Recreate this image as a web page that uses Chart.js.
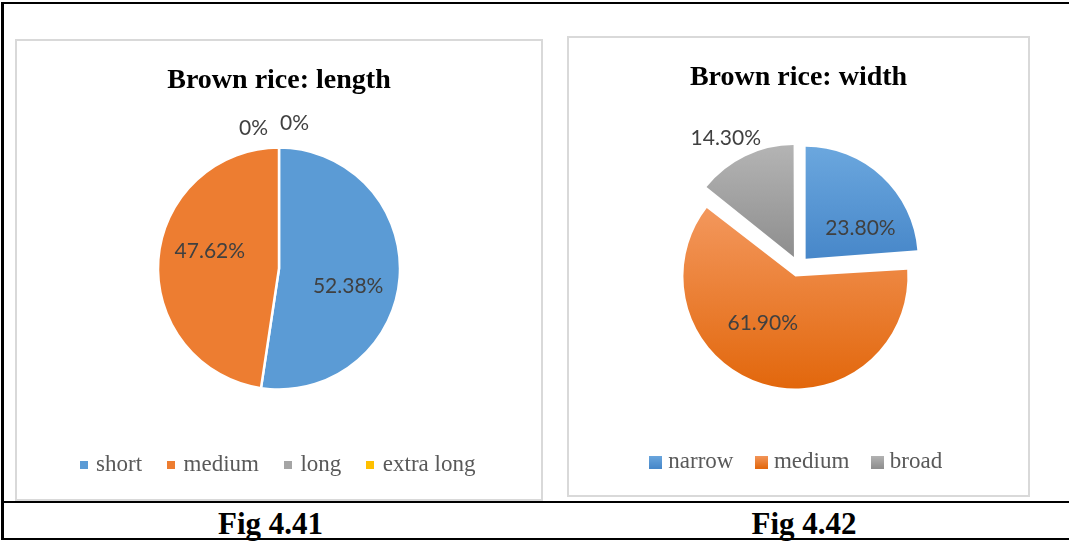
<!DOCTYPE html>
<html>
<head>
<meta charset="utf-8">
<script src="https://cdn.jsdelivr.net/npm/chart.js@4.4.1/dist/chart.umd.min.js"></script>
<style>
  html, body { margin: 0; padding: 0; background: #fff; }
  #page { position: relative; width: 1069px; height: 541px; overflow: hidden; }
  .rule { position: absolute; background: #000; }
  .box { position: absolute; box-sizing: border-box; border: 2px solid #d9d9d9; }
  .box div { position: relative; width: 100%; height: 100%; }
  .fig { position: absolute; top: 506px; line-height: 31px; text-align: center;
         font: bold 31px "Liberation Serif", "Times New Roman", serif; color: #000; }
</style>
</head>
<body>
<div id="page">
  <div class="rule" style="left:1px;top:2px;width:1068px;height:2px"></div>
  <div class="rule" style="left:1px;top:2px;width:3px;height:538px"></div>
  <div class="rule" style="left:1px;top:501px;width:1068px;height:2px"></div>
  <div class="rule" style="left:1px;top:538px;width:1068px;height:2px"></div>

  <div class="box" style="left:15px;top:39px;width:528px;height:462px"><div><canvas id="lengthChart"></canvas></div></div>
  <div class="box" style="left:567px;top:36px;width:463px;height:461px"><div><canvas id="widthChart"></canvas></div></div>

  <div class="fig" style="left:0;width:541px">Fig 4.41</div>
  <div class="fig" style="left:541px;width:526px">Fig 4.42</div>
</div>
<script>
// Fig 4.41 - length classes (%)
const lengthLabels = ["short", "medium", "long", "extra long"];
const lengthValues = [52.38, 47.62, 0, 0];

// Fig 4.42 - width classes (%)
const widthLabels = ["narrow", "medium", "broad"];
const widthValues = [23.80, 61.90, 14.30];

const SERIF = '"Liberation Serif", "Times New Roman", serif';
const lengthColors = ["#5b9bd5", "#ed7d31", "#a5a5a5", "#ffc000"];
// vertical gradient stops over the pie height (Excel style shading)
const widthShades = [
  [[0, "#6ba7de"], [0.5, "#4787c9"]],
  [[0.2, "#f3975c"], [1, "#e2670c"]],
  [[0, "#b4b4b4"], [0.5, "#8e8e8e"]]
];
const widthRadius = 112;

function swatch(c1, c2, size) {
  const c = document.createElement("canvas");
  c.width = size; c.height = size;
  const g = c.getContext("2d");
  const grad = g.createLinearGradient(0, 0, 0, size);
  grad.addColorStop(0, c1);
  grad.addColorStop(1, c2);
  g.fillStyle = grad;
  g.fillRect(0, 0, size, size);
  return c;
}

function fmt(v) {
  return v === 0 ? "0%" : v.toFixed(2) + "%";
}

// percentage labels, inside big slices and outside small ones
const sliceLabels = {
  id: "sliceLabels",
  afterDatasetsDraw(chart, args, opts) {
    const ctx = chart.ctx;
    const arcs = chart.getDatasetMeta(0).data;
    const values = chart.data.datasets[0].data;
    const total = values.reduce((a, b) => a + b, 0);
    ctx.save();
    ctx.font = opts.size + "px " + opts.family;
    ctx.fillStyle = opts.color;
    ctx.textAlign = "center";
    ctx.textBaseline = "middle";
    const outside = [];
    arcs.forEach((arc, i) => {
      const mid = (arc.startAngle + arc.endAngle) / 2;
      const shift = (arc.options.offset || 0) / 4;
      const cx = arc.x + Math.cos(mid) * shift;
      const cy = arc.y + Math.sin(mid) * shift;
      const text = fmt(values[i]);
      if (values[i] / total >= opts.insideMin) {
        const a = mid + opts.turn * Math.PI / 180;
        const d = arc.outerRadius * opts.inner;
        ctx.fillText(text, cx + Math.cos(a) * d, cy + Math.sin(a) * d);
      } else {
        const w = ctx.measureText(text).width;
        const d = arc.outerRadius + opts.gap;
        outside.push({
          text, w,
          x: cx + Math.cos(mid) * d + Math.cos(mid) * w / 2,
          y: cy + Math.sin(mid) * d + Math.sin(mid) * opts.size / 2
        });
      }
    });
    // labels that land on the same spot are laid side by side
    const done = new Set();
    outside.forEach((l, i) => {
      if (done.has(i)) return;
      const group = outside.filter((m, j) => !done.has(j) && Math.abs(m.x - l.x) < 2 && Math.abs(m.y - l.y) < 2);
      outside.forEach((m, j) => { if (group.includes(m)) done.add(j); });
      const width = group.reduce((s, m) => s + m.w, 0) + (group.length - 1) * opts.spread;
      let x = l.x - width / 2 - opts.lean;
      group.forEach((m, k) => {
        ctx.fillText(m.text, x + m.w / 2, m.y + (group.length > 1 ? (k === 0 ? 3 : -2) : 0));
        x += m.w + opts.spread;
      });
    });
    ctx.restore();
  }
};

// Chart.js grows slices wider than 180deg when exploded; keep the true radius
const trueRadius = {
  id: "trueRadius",
  afterDatasetUpdate(chart, args) {
    args.meta.data.forEach(arc => {
      const off = (arc.options.offset || 0) / 4;
      if (!off) return;
      arc.outerRadius -= off * (1 - Math.sin(Math.min(Math.PI, arc.circumference)));
    });
  }
};

function legendFor(icon) {
  return chart => Chart.overrides.pie.plugins.legend.labels.generateLabels(chart)
    .map((item, i) => Object.assign(item, { pointStyle: icon(i) }));
}

new Chart(document.getElementById("lengthChart"), {
  type: "pie",
  data: {
    labels: lengthLabels,
    datasets: [{
      data: lengthValues,
      backgroundColor: lengthColors,
      borderColor: "#ffffff",
      borderWidth: 2.5,
      radius: 121
    }]
  },
  options: {
    responsive: true,
    maintainAspectRatio: false,
    animation: false,
    layout: { padding: { left: 0, right: 0, top: 0, bottom: 13 } },
    plugins: {
      title: {
        display: true,
        text: "Brown rice: length",
        color: "#000",
        font: { family: SERIF, size: 28, weight: "bold", lineHeight: 1.2 },
        padding: { top: 22.5, bottom: 14.9 }
      },
      legend: {
        position: "bottom",
        labels: {
          usePointStyle: true,
          boxWidth: 2,
          padding: 28,
          color: "#595959",
          font: { family: SERIF, size: 23 },
          generateLabels: legendFor(i => swatch(lengthColors[i], lengthColors[i], 8))
        }
      },
      tooltip: { enabled: false },
      sliceLabels: { size: 21, family: "Lato", color: "#404040", inner: 0.59, turn: 10, insideMin: 0.2, gap: 12, spread: 12, lean: 5 }
    }
  },
  plugins: [sliceLabels]
});

new Chart(document.getElementById("widthChart"), {
  type: "pie",
  data: {
    labels: widthLabels,
    datasets: [{
      data: widthValues,
      backgroundColor: ctx => {
        const area = ctx.chart.chartArea;
        const stops = widthShades[ctx.dataIndex];
        if (!area) return stops[1][1];
        const cy = (area.top + area.bottom) / 2;
        const grad = ctx.chart.ctx.createLinearGradient(0, cy - widthRadius, 0, cy + widthRadius);
        stops.forEach(([t, c]) => grad.addColorStop(t, c));
        return grad;
      },
      borderWidth: 0,
      offset: 42,
      radius: widthRadius
    }]
  },
  options: {
    responsive: true,
    maintainAspectRatio: false,
    animation: false,
    layout: { padding: { left: 0, right: 0, top: 0, bottom: 11.5 } },
    plugins: {
      title: {
        display: true,
        text: "Brown rice: width",
        color: "#000",
        font: { family: SERIF, size: 28, weight: "bold", lineHeight: 1.2 },
        padding: { top: 22.5, bottom: 15.4 }
      },
      legend: {
        position: "bottom",
        labels: {
          usePointStyle: true,
          boxWidth: 2,
          padding: 27,
          color: "#595959",
          font: { family: SERIF, size: 23 },
          generateLabels: legendFor(i => swatch(widthShades[i][0][1], widthShades[i][1][1], 13))
        }
      },
      tooltip: { enabled: false },
      sliceLabels: { size: 21, family: "Lato", color: "#404040", inner: 0.56, turn: 18, insideMin: 0.2, gap: 12, spread: 12, lean: 0 }
    }
  },
  plugins: [trueRadius, sliceLabels]
});
</script>
</body>
</html>
